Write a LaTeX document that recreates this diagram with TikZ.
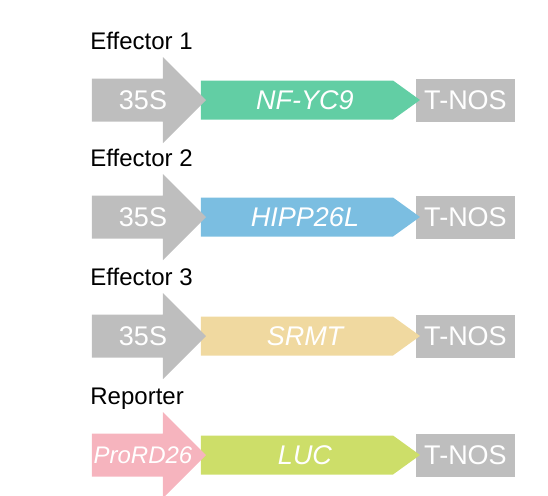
\documentclass[tikz,border=0pt]{standalone}
\usepackage{fontspec}
\setmainfont{Liberation Sans}
\definecolor{grayp}{RGB}{190,190,190}
\definecolor{greeng}{RGB}{98,206,164}
\definecolor{blueg}{RGB}{123,190,225}
\definecolor{yellowg}{RGB}{240,217,160}
\definecolor{limeg}{RGB}{205,222,105}
\definecolor{pinkp}{RGB}{246,180,190}

\begin{document}
\begin{tikzpicture}[line cap=round,line join=round,x=0.5pt,y=-0.5pt,
  boxtxt/.style={text=white,inner sep=0pt,font=\fontsize{13.5}{16}\selectfont},
  genetxt/.style={text=white,inner sep=0pt,font=\fontsize{13.5}{16}\selectfont\itshape},
  rowlab/.style={anchor=base west,inner sep=0pt,font=\fontsize{12}{14}\selectfont}]
\useasboundingbox (0,0) rectangle (548,495);
%\draw[red] (0,0) rectangle (548,495);
\foreach \y/\i/\lab/\gene/\gcol/\pcol/\ptxt in
  {100/1/Effector 1/NF-YC9/greeng/grayp/35S,
   217/2/Effector 2/HIPP26L/blueg/grayp/35S,
   336/3/Effector 3/SRMT/yellowg/grayp/35S,
   455/4/Reporter/LUC/limeg/pinkp/\textit{\fontsize{12}{14}\selectfont ProRD26}}
{
% terminator, gene, promoter
\fill[grayp] (416,\y-21.5) rectangle (515,\y+21.5);
\fill[\gcol] (201,\y-19.5) -- (393,\y-19.5) -- (420,\y) -- (393,\y+19.5) -- (201,\y+19.5) -- cycle;
\fill[\pcol] (92,\y-21.5) -- (163,\y-21.5) -- (163,\y-43) -- (206,\y) -- (163,\y+43) -- (163,\y+21.5) -- (92,\y+21.5) -- cycle;
\node[rowlab] (lab\i) at (90,\y-51) {\lab};
\node[boxtxt] (pro\i) at (143,\y) {\ptxt};
\node[genetxt] (gene\i) at (305,\y) {\gene};
\node[boxtxt] (term\i) at (465.5,\y) {T-NOS};
}
\end{tikzpicture}
\end{document}
